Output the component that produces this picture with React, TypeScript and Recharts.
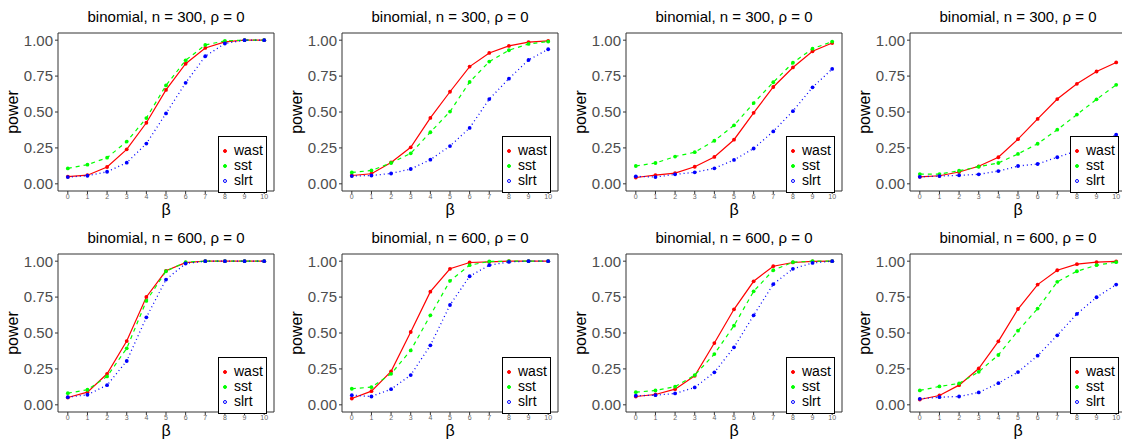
import React from 'react';
import { LineChart, Line, XAxis, YAxis, ReferenceArea } from 'recharts';

// beta grid on the x axis
const beta = [0, 1, 2, 3, 4, 5, 6, 7, 8, 9, 10];
const xTicks = [0, 1, 2, 3, 4, 5, 6, 7, 8, 9, 10];
const yTicks = [0, 0.25, 0.5, 0.75, 1];

const titles = [
  'binomial, n = 300, ρ = 0',
  'binomial, n = 300, ρ = 0',
  'binomial, n = 300, ρ = 0',
  'binomial, n = 300, ρ = 0',
  'binomial, n = 600, ρ = 0',
  'binomial, n = 600, ρ = 0',
  'binomial, n = 600, ρ = 0',
  'binomial, n = 600, ρ = 0',
];

// top row, n = 300
const wast1 = [0.05, 0.06, 0.117, 0.24, 0.425, 0.654, 0.836, 0.946, 0.988, 1.0, 1.0];
const sst1 = [0.107, 0.133, 0.182, 0.294, 0.458, 0.685, 0.86, 0.967, 0.995, 1.0, 1.0];
const slrt1 = [0.047, 0.056, 0.084, 0.147, 0.28, 0.49, 0.703, 0.888, 0.977, 1.0, 1.0];

const wast2 = [0.058, 0.07, 0.149, 0.254, 0.459, 0.641, 0.816, 0.911, 0.96, 0.986, 0.995];
const sst2 = [0.079, 0.093, 0.145, 0.212, 0.359, 0.503, 0.709, 0.851, 0.93, 0.974, 0.99];
const slrt2 = [0.054, 0.058, 0.072, 0.103, 0.168, 0.263, 0.389, 0.59, 0.732, 0.862, 0.937];

const wast3 = [0.044, 0.061, 0.075, 0.119, 0.187, 0.307, 0.494, 0.674, 0.81, 0.923, 0.98];
const sst3 = [0.124, 0.145, 0.19, 0.22, 0.3, 0.407, 0.562, 0.707, 0.843, 0.941, 0.99];
const slrt3 = [0.052, 0.047, 0.066, 0.08, 0.108, 0.166, 0.246, 0.365, 0.506, 0.672, 0.8];

const wast4 = [0.049, 0.056, 0.082, 0.122, 0.185, 0.311, 0.452, 0.59, 0.696, 0.782, 0.845];
const sst4 = [0.068, 0.068, 0.091, 0.119, 0.145, 0.208, 0.279, 0.377, 0.482, 0.588, 0.689];
const slrt4 = [0.049, 0.054, 0.059, 0.066, 0.089, 0.124, 0.138, 0.185, 0.23, 0.28, 0.342];

// bottom row, n = 600
const wast5 = [0.051, 0.088, 0.216, 0.444, 0.751, 0.933, 0.99, 1.0, 1.0, 1.0, 1.0];
const sst5 = [0.081, 0.105, 0.198, 0.393, 0.723, 0.93, 0.993, 1.0, 1.0, 1.0, 1.0];
const slrt5 = [0.053, 0.07, 0.137, 0.305, 0.609, 0.872, 0.984, 1.0, 1.0, 1.0, 1.0];

const wast6 = [0.044, 0.095, 0.233, 0.507, 0.788, 0.947, 0.991, 0.995, 1.0, 1.0, 1.0];
const sst6 = [0.112, 0.123, 0.216, 0.379, 0.623, 0.863, 0.972, 0.998, 1.0, 1.0, 1.0];
const slrt6 = [0.067, 0.058, 0.109, 0.207, 0.414, 0.695, 0.895, 0.972, 0.995, 1.0, 1.0];

const wast7 = [0.058, 0.072, 0.109, 0.202, 0.43, 0.665, 0.86, 0.965, 0.991, 0.998, 1.0];
const sst7 = [0.088, 0.1, 0.126, 0.207, 0.353, 0.551, 0.79, 0.937, 0.993, 1.0, 1.0];
const slrt7 = [0.063, 0.067, 0.079, 0.121, 0.226, 0.4, 0.623, 0.84, 0.947, 0.988, 1.0];

const wast8 = [0.037, 0.065, 0.137, 0.253, 0.442, 0.667, 0.837, 0.937, 0.979, 0.993, 0.998];
const sst8 = [0.1, 0.128, 0.149, 0.23, 0.347, 0.516, 0.67, 0.856, 0.93, 0.972, 0.993];
const slrt8 = [0.042, 0.053, 0.058, 0.086, 0.151, 0.228, 0.342, 0.484, 0.633, 0.749, 0.837];

const panels = [
  [wast1, sst1, slrt1],
  [wast2, sst2, slrt2],
  [wast3, sst3, slrt3],
  [wast4, sst4, slrt4],
  [wast5, sst5, slrt5],
  [wast6, sst6, slrt6],
  [wast7, sst7, slrt7],
  [wast8, sst8, slrt8],
];

const RED = '#FF0000';
const GREEN = '#00FF00';
const BLUE = '#0000FF';
const FONT = '"Liberation Sans", Arial, Helvetica, sans-serif';

const CELL_W = 284;
const CELL_H = 220;
const PLOT_LEFT = 58;
const PLOT_TOP = 33;
const PLOT_W = 216;
const PLOT_H = 158;

const PowerLabel = () => (
  <text
    transform="rotate(-90)"
    x={-(PLOT_TOP + PLOT_H / 2)}
    y={18}
    textAnchor="middle"
    fontSize={16}
    fill="#000"
    fontFamily={FONT}
  >
    power
  </text>
);

const LegendBox = () => {
  const items = [
    { name: 'wast', color: RED },
    { name: 'sst', color: GREEN },
    { name: 'slrt', color: BLUE },
  ];
  return (
    <div
      style={{
        position: 'absolute',
        left: 218,
        top: 136,
        width: 47,
        height: 55,
        border: '1px solid #000',
        background: '#fff',
        boxSizing: 'content-box',
      }}
    >
      {items.map((it, i) => (
        <div
          key={it.name}
          style={{
            position: 'absolute',
            left: 0,
            top: 6 + i * 15,
            height: 15,
            lineHeight: '15px',
            fontSize: 14,
            fontFamily: FONT,
            color: '#000',
            whiteSpace: 'nowrap',
            display: 'flex',
            alignItems: 'center',
          }}
        >
          <svg width={14} height={15}>
            <circle cx={6} cy={8} r={1.5} fill={it.name === 'slrt' ? '#fff' : it.color} stroke={it.color} strokeWidth={1} />
          </svg>
          <span style={{ display: 'inline-block', height: 15, lineHeight: '15px', marginLeft: 1 }}>{it.name}</span>
        </div>
      ))}
    </div>
  );
};

const Panel = ({ title, wast, sst, slrt, left, top }: any) => {
  const data = beta.map((b, i) => ({ beta: b, wast: wast[i], sst: sst[i], slrt: slrt[i] }));
  return (
    <div style={{ position: 'absolute', left, top, width: CELL_W, height: CELL_H }}>
      <div
        style={{
          position: 'absolute',
          left: PLOT_LEFT,
          width: PLOT_W,
          top: 8,
          height: 18,
          lineHeight: '18px',
          textAlign: 'center',
          fontSize: 15,
          fontFamily: FONT,
          color: '#000',
          whiteSpace: 'nowrap',
        }}
      >
        {title}
      </div>
      <div style={{ position: 'absolute', left: 0, top: 0 }}>
        <LineChart
          width={CELL_W}
          height={CELL_H}
          data={data}
          margin={{ top: PLOT_TOP, right: CELL_W - PLOT_LEFT - PLOT_W, bottom: 0, left: 0 }}
        >
          <XAxis
            dataKey="beta"
            type="number"
            domain={[-0.5, 10.5]}
            ticks={xTicks}
            allowDataOverflow
            height={CELL_H - PLOT_TOP - PLOT_H}
            axisLine={false}
            tickLine={{ stroke: '#333' }}
            tickSize={3}
            tickMargin={0}
            tick={{ fontSize: 7, fill: '#666', fontFamily: FONT }}
            interval={0}
            label={{ value: 'β', position: 'insideBottom', offset: 5, fontSize: 16, fill: '#000', fontFamily: FONT }}
          />
          <YAxis
            type="number"
            domain={[-0.05, 1.05]}
            ticks={yTicks}
            allowDataOverflow
            width={PLOT_LEFT}
            axisLine={false}
            tickLine={{ stroke: '#333' }}
            tickSize={3}
            tickMargin={2}
            tick={{ fontSize: 15, fill: '#4D4D4D', fontFamily: FONT }}
            tickFormatter={(v: number) => v.toFixed(2)}
            interval={0}
            label={<PowerLabel />}
          />
          <ReferenceArea x1={-0.5} x2={10.5} y1={-0.05} y2={1.05} fill="none" stroke="#333" strokeWidth={1} ifOverflow="visible" />
          <Line
            dataKey="wast"
            stroke={RED}
            strokeWidth={1.2}
            dot={{ r: 1.9, fill: RED, strokeWidth: 0 }}
            activeDot={false}
            isAnimationActive={false}
          />
          <Line
            dataKey="sst"
            stroke={GREEN}
            strokeWidth={1.2}
            strokeDasharray="4 4"
            dot={{ r: 1.9, fill: GREEN, strokeWidth: 0 }}
            activeDot={false}
            isAnimationActive={false}
          />
          <Line
            dataKey="slrt"
            stroke={BLUE}
            strokeWidth={1.3}
            strokeDasharray="1 3"
            dot={{ r: 1.9, fill: BLUE, strokeWidth: 0 }}
            activeDot={false}
            isAnimationActive={false}
          />
        </LineChart>
      </div>
      <LegendBox />
    </div>
  );
};

export default function App() {
  return (
    <div style={{ position: 'absolute', left: 0, top: 0, width: 1122, height: 439, overflow: 'hidden', background: '#fff' }}>
      {panels.map((p, i) => (
        <Panel
          key={i}
          title={titles[i]}
          wast={p[0]}
          sst={p[1]}
          slrt={p[2]}
          left={(i % 4) * CELL_W}
          top={Math.floor(i / 4) * (CELL_H + 1)}
        />
      ))}
    </div>
  );
}
